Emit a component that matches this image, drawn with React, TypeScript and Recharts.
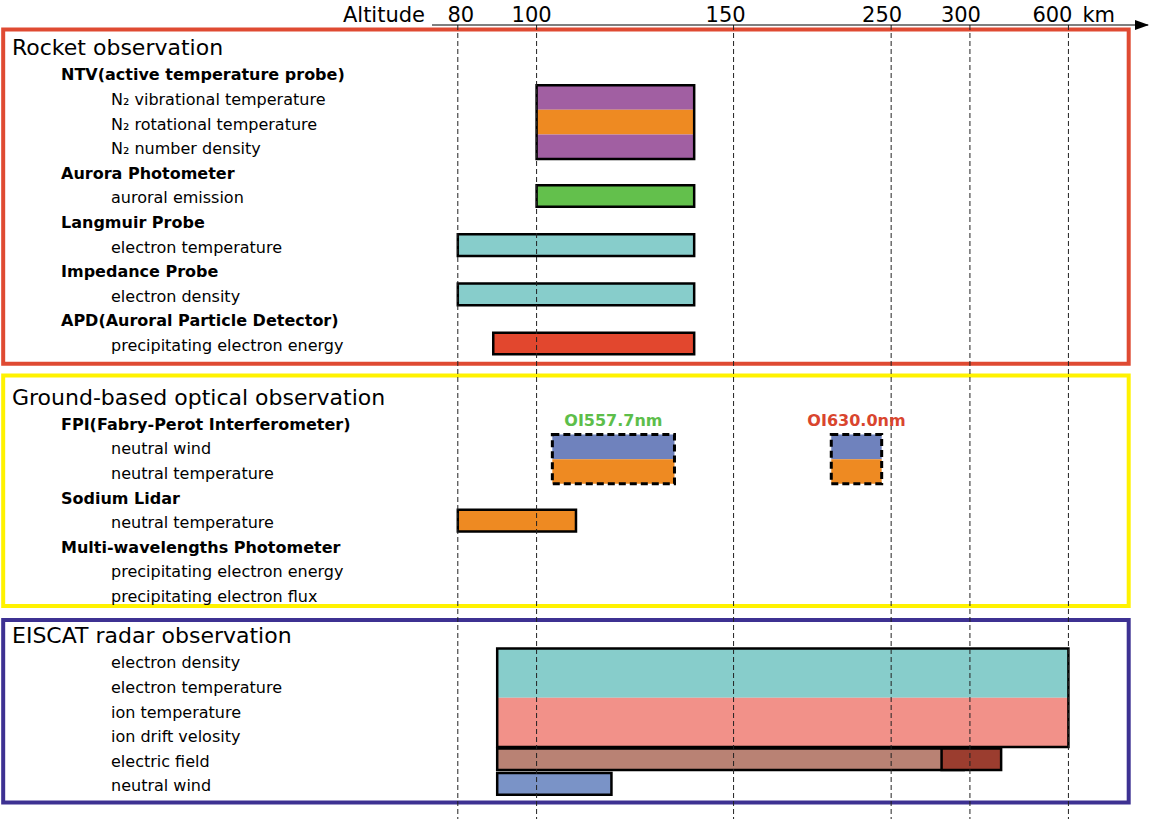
import { ComposedChart, ReferenceArea, ReferenceLine, XAxis, YAxis } from "recharts";

const FONT = "DejaVu Sans";

// section titles and their rows (level 1 = instrument, 2 = measured quantity)
const TITLES = ["Rocket observation", "Ground-based optical observation", "EISCAT radar observation"];

const ROCKET_ROWS = [
  { label: "NTV(active temperature probe)", level: 1 },
  { label: "N₂ vibrational temperature", level: 2 },
  { label: "N₂ rotational temperature", level: 2 },
  { label: "N₂ number density", level: 2 },
  { label: "Aurora Photometer", level: 1 },
  { label: "auroral emission", level: 2 },
  { label: "Langmuir Probe", level: 1 },
  { label: "electron temperature", level: 2 },
  { label: "Impedance Probe", level: 1 },
  { label: "electron density", level: 2 },
  { label: "APD(Auroral Particle Detector)", level: 1 },
  { label: "precipitating electron energy", level: 2 },
];

const GROUND_ROWS = [
  { label: "FPI(Fabry-Perot Interferometer)", level: 1 },
  { label: "neutral wind", level: 2 },
  { label: "neutral temperature", level: 2 },
  { label: "Sodium Lidar", level: 1 },
  { label: "neutral temperature", level: 2 },
  { label: "Multi-wavelengths Photometer", level: 1 },
  { label: "precipitating electron energy", level: 2 },
  { label: "precipitating electron flux", level: 2 },
];

const EISCAT_ROWS = [
  { label: "electron density", level: 2 },
  { label: "electron temperature", level: 2 },
  { label: "ion temperature", level: 2 },
  { label: "ion drift velosity", level: 2 },
  { label: "electric field", level: 2 },
  { label: "neutral wind", level: 2 },
];

// altitude coverage (km); row = index in the section, rows = rows covered
type Span = { key: string; row: number; rows?: number; from: number; to: number; group?: string };

const ROCKET_SPANS: Span[] = [
  { key: "n2vib", row: 1, from: 100, to: 140, group: "ntv" },
  { key: "n2rot", row: 2, from: 100, to: 140, group: "ntv" },
  { key: "n2num", row: 3, from: 100, to: 140, group: "ntv" },
  { key: "aurora", row: 5, from: 100, to: 140 },
  { key: "te", row: 7, from: 80, to: 140 },
  { key: "ne", row: 9, from: 80, to: 140 },
  { key: "apd", row: 11, from: 89, to: 140 },
];

const GROUND_SPANS: Span[] = [
  { key: "wind557", row: 1, from: 104, to: 135, group: "fpi557" },
  { key: "temp557", row: 2, from: 104, to: 135, group: "fpi557" },
  { key: "wind630", row: 1, from: 212, to: 244, group: "fpi630" },
  { key: "temp630", row: 2, from: 212, to: 244, group: "fpi630" },
  { key: "sodium", row: 4, from: 80, to: 110 },
];

const EISCAT_SPANS: Span[] = [
  { key: "radarNe", row: 0, rows: 2, from: 90, to: 600, group: "radar" },
  { key: "radarTi", row: 2, rows: 2, from: 90, to: 600, group: "radar" },
  { key: "efield", row: 4, from: 90, to: 296 },
  { key: "efieldHigh", row: 4, from: 282, to: 395 },
  { key: "radarWind", row: 5, from: 90, to: 119 },
];

const EMISSION_LINES = [
  { group: "fpi557", text: "OI557.7nm" },
  { group: "fpi630", text: "OI630.0nm" },
];

const ALT_TICKS = [80, 100, 150, 250, 300, 600];

// ---- styles / layout ----
const FILL: Record<string, string> = {
  n2vib: "#A15FA2",
  n2rot: "#EE8A22",
  n2num: "#A15FA2",
  aurora: "#63C04C",
  te: "#87CDCB",
  ne: "#87CDCB",
  apd: "#E2472E",
  wind557: "#6F82BD",
  temp557: "#EE8A22",
  wind630: "#6F82BD",
  temp630: "#EE8A22",
  sodium: "#EE8A22",
  radarNe: "#87CDCB",
  radarTi: "#F29189",
  efield: "#B98274",
  efieldHigh: "#9B3D2F",
  radarWind: "#7A93C7",
};
const LABEL_COLOR: Record<string, string> = { fpi557: "#5DBE4A", fpi630: "#D9452E" };
const DASHED_GROUPS = ["fpi557", "fpi630"];
const BOX_COLORS = ["#DF4A32", "#FFF200", "#3D3192"];
const SECTION_START = [0, 14.2, 23.9];
const BOX_TOP_PAD = [1.77, 1.9, 1.66];
const BOX_BOTTOM_PAD = [0.82, 0.47, 0.76];
const INDENT = [12, 61, 111];
const TICK_NUDGE: Record<number, number> = { 80: 3, 100: -5, 150: -8, 250: -9, 300: -9, 600: -16 };

// altitude axis is piecewise: 80-150 km full scale, 150-300 compressed, 300-600 strongly compressed
function toU(alt: number) {
  if (alt <= 150) return alt - 80;
  if (alt <= 300) return 70 + (alt - 150) * 0.4;
  return 130 + (alt - 300) / 12;
}

const sections = [
  { rows: ROCKET_ROWS, spans: ROCKET_SPANS },
  { rows: GROUND_ROWS, spans: GROUND_SPANS },
  { rows: EISCAT_ROWS, spans: EISCAT_SPANS },
];

const slotKey = (v: number) => v.toFixed(2);
const labelAt = new Map<string, { label: string; level: number }>();
sections.forEach((s, i) => {
  const start = SECTION_START[i];
  labelAt.set(slotKey(start - 1.1), { label: TITLES[i], level: 0 });
  s.rows.forEach((r, j) => labelAt.set(slotKey(start + j), r));
});
const yTicks = [...labelAt.keys()].map(Number);

const bars = sections.flatMap((s, i) =>
  s.spans.map((sp) => {
    const top = SECTION_START[i] + sp.row;
    const bottom = top + (sp.rows ?? 1) - 1;
    const pad = sp.group ? 0.5 : 0.44;
    return { ...sp, y1: top - pad, y2: bottom + pad };
  })
);

const frames = Object.values(
  bars.reduce<Record<string, { group: string; x1: number; x2: number; y1: number; y2: number }>>((acc, b) => {
    if (!b.group) return acc;
    const f = acc[b.group];
    acc[b.group] = f
      ? { group: b.group, x1: Math.min(f.x1, b.from), x2: Math.max(f.x2, b.to), y1: Math.min(f.y1, b.y1), y2: Math.max(f.y2, b.y2) }
      : { group: b.group, x1: b.from, x2: b.to, y1: b.y1, y2: b.y2 };
    return acc;
  }, {})
);

// a couple of invisible anchor points so both numeric axes have something to work with
const anchor = [
  { u: 0, slot: 0 },
  { u: 155, slot: 28 },
];

function RowTick(props: any) {
  const row = labelAt.get(slotKey(props.payload.value));
  if (!row) return null;
  return (
    <text
      x={INDENT[row.level]}
      y={props.y}
      dy={2}
      dominantBaseline="central"
      fontFamily={FONT}
      fontSize={row.level === 0 ? 22 : 16}
      fontWeight={row.level === 1 ? "bold" : "normal"}
      fill="#000"
    >
      {row.label}
    </text>
  );
}

function AltTick(props: any) {
  const alt = ALT_TICKS.find((a) => Math.abs(toU(a) - props.payload.value) < 1e-3);
  if (alt === undefined) return null;
  const last = alt === ALT_TICKS[ALT_TICKS.length - 1];
  return (
    <g>
      <text x={props.x + (TICK_NUDGE[alt] ?? 0)} y={22} textAnchor="middle" fontFamily={FONT} fontSize={21} fill="#000">
        {alt}
      </text>
      {last && (
        <text x={props.x + 14} y={22} fontFamily={FONT} fontSize={21} fill="#000">
          km
        </text>
      )}
    </g>
  );
}

function AxisDecor(props: any) {
  const vb = props.viewBox ?? { x: 432, y: 24, width: 716, height: 1 };
  const end = vb.x + vb.width;
  const y = 25;
  return (
    <g>
      <text x={vb.x - 7} y={22} textAnchor="end" fontFamily={FONT} fontSize={21} fill="#000">
        Altitude
      </text>
      <path d={`M${end - 13},${y - 5} L${end + 1},${y} L${end - 13},${y + 5} Z`} fill="#000" />
    </g>
  );
}

export default function App() {
  return (
    <div style={{ position: "absolute", left: 0, top: 0, width: 1150, height: 819, background: "#fff" }}>
      <ComposedChart width={1150} height={819} data={anchor} margin={{ top: 24, right: 2, bottom: 0, left: 0 }}>
        <XAxis
          dataKey="u"
          type="number"
          orientation="top"
          domain={[-6.55, 175.2]}
          allowDataOverflow
          height={1}
          ticks={ALT_TICKS.map(toU)}
          interval={0}
          tickLine={false}
          tickSize={0}
          tickMargin={0}
          axisLine={{ stroke: "#000", strokeWidth: 1 }}
          tick={<AltTick />}
          label={<AxisDecor />}
        />
        <YAxis
          dataKey="slot"
          type="number"
          reversed
          domain={[-1.95, 30.33]}
          allowDataOverflow
          width={432}
          ticks={yTicks}
          interval={0}
          axisLine={false}
          tickLine={false}
          tick={<RowTick />}
        />
        {sections.map((s, i) => (
          <ReferenceArea
            key={`box-${i}`}
            x1={-115.4}
            x2={170.3}
            y1={SECTION_START[i] - BOX_TOP_PAD[i]}
            y2={SECTION_START[i] + s.rows.length - 1 + BOX_BOTTOM_PAD[i]}
            fill="none"
            stroke={BOX_COLORS[i]}
            strokeWidth={4}
            ifOverflow="visible"
          />
        ))}
        {bars.map((b) => (
          <ReferenceArea
            key={b.key}
            x1={toU(b.from)}
            x2={toU(b.to)}
            y1={b.y1}
            y2={b.y2}
            fill={FILL[b.key]}
            fillOpacity={1}
            stroke={b.group ? "none" : "#000"}
            strokeWidth={2.5}
            ifOverflow="visible"
          />
        ))}
        {frames.map((f) => {
          const line = EMISSION_LINES.find((e) => e.group === f.group);
          const dashed = DASHED_GROUPS.includes(f.group);
          return (
            <ReferenceArea
              key={`frame-${f.group}`}
              x1={toU(f.x1)}
              x2={toU(f.x2)}
              y1={f.y1}
              y2={f.y2}
              fill="none"
              stroke="#000"
              strokeWidth={dashed ? 3 : 2.5}
              strokeDasharray={dashed ? "7 4" : undefined}
              ifOverflow="visible"
              label={
                line
                  ? {
                      value: line.text,
                      position: "top",
                      offset: 9,
                      fill: LABEL_COLOR[f.group],
                      fontSize: 16,
                      fontWeight: "bold",
                      fontFamily: FONT,
                    }
                  : undefined
              }
            />
          );
        })}
        {ALT_TICKS.map((a) => (
          <ReferenceLine key={`grid-${a}`} x={toU(a)} stroke="#222" strokeWidth={1} strokeDasharray="5 3" ifOverflow="visible" />
        ))}
      </ComposedChart>
    </div>
  );
}
